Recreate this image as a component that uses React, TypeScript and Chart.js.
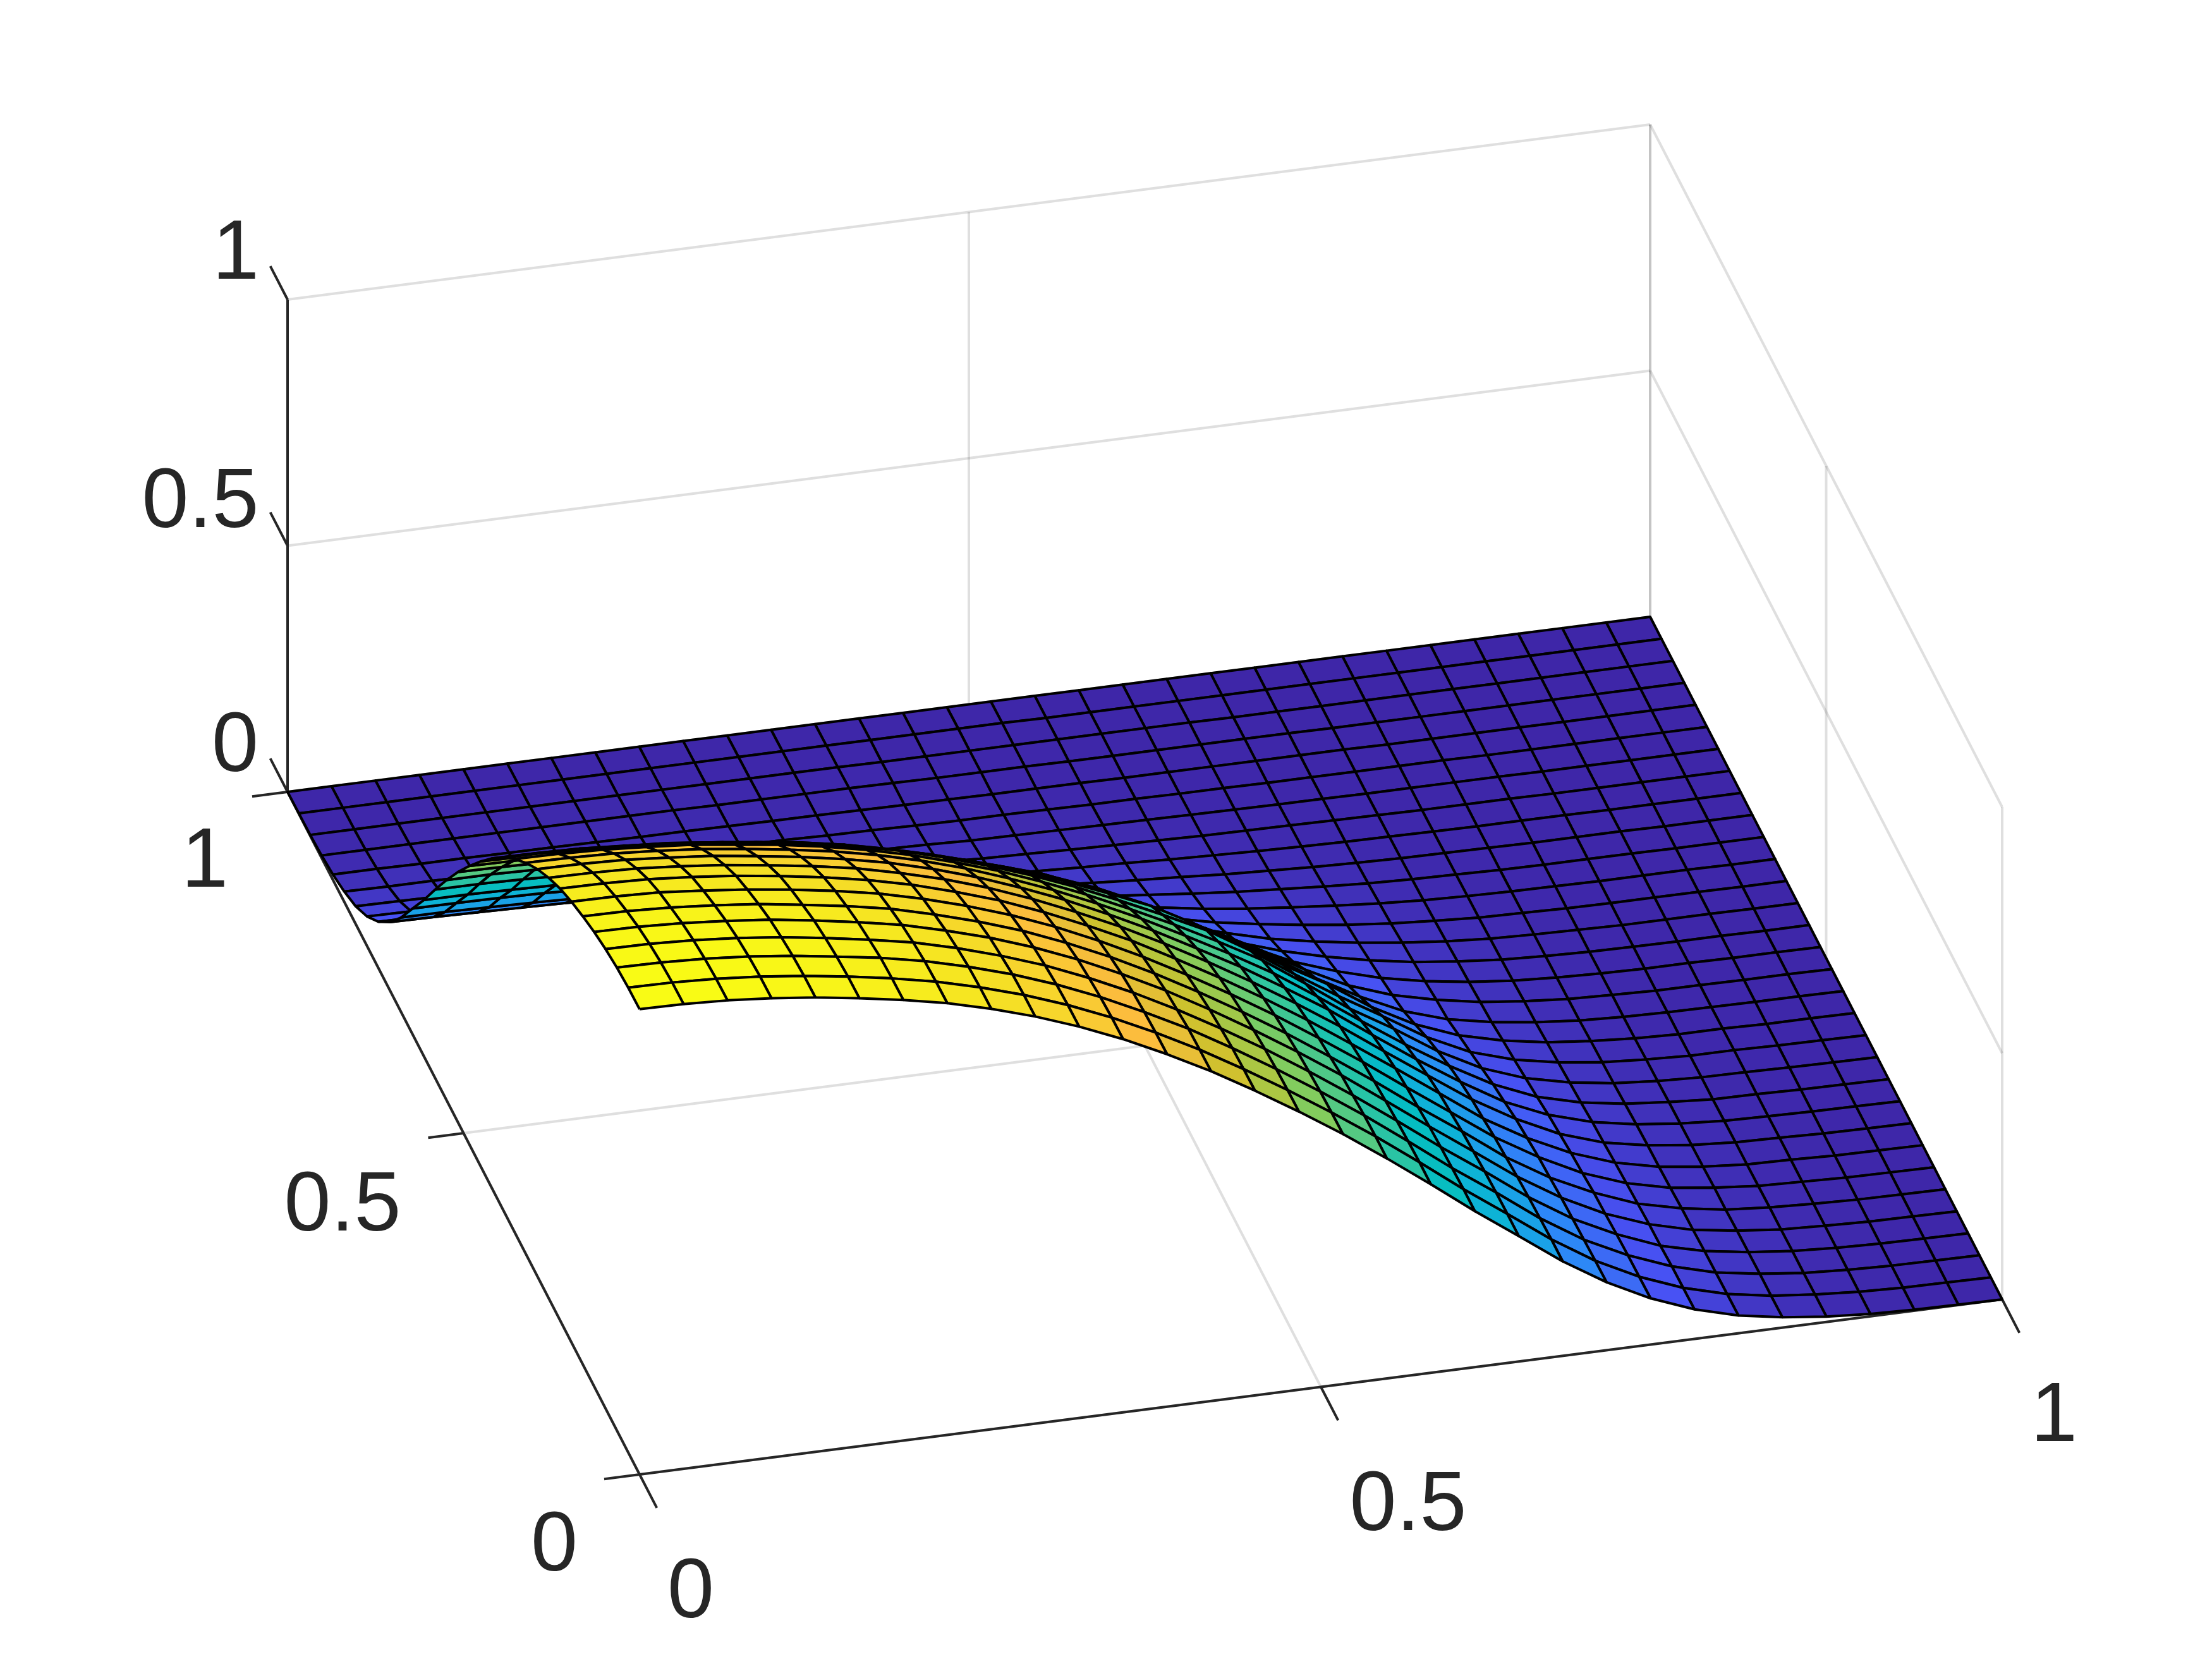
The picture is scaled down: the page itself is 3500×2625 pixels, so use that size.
import React, { useEffect, useRef } from "react";
import { Chart, registerables } from "chart.js";

Chart.register(...registerables);

// Surface heights: one row per y grid line (y = 0 first), one value per x grid line.
const surfaceZ: number[][] = [
  [.945,.944,.940,.933,.923,.910,.895,.877,.854,.827,.795,.758,.716,.670,.619,.565,.508,.447,.383,.317,.255,.192,.138,.094,.060,.036,.021,.011,.005,.002,.001,0],
  [.944,.943,.939,.932,.922,.909,.894,.876,.853,.826,.794,.757,.715,.669,.618,.564,.507,.447,.383,.317,.255,.192,.137,.093,.059,.035,.020,.011,.005,.002,.001,0],
  [.940,.939,.935,.928,.918,.905,.891,.873,.850,.823,.791,.754,.712,.667,.616,.562,.505,.445,.381,.315,.254,.190,.135,.092,.058,.034,.020,.010,.005,.002,.001,0],
  [.933,.932,.928,.921,.911,.898,.883,.866,.843,.816,.785,.748,.707,.661,.611,.558,.501,.441,.378,.313,.252,.188,.133,.090,.055,.033,.019,.010,.005,.002,.001,0],
  [.923,.922,.918,.911,.902,.889,.874,.857,.834,.808,.777,.741,.700,.655,.605,.552,.496,.437,.374,.310,.248,.185,.131,.087,.054,.031,.018,.009,.005,.002,.001,0],
  [.910,.909,.905,.898,.889,.876,.862,.845,.822,.796,.766,.730,.690,.645,.596,.544,.489,.430,.369,.305,.244,.180,.127,.085,.051,.030,.016,.009,.005,.002,.001,0],
  [.895,.894,.891,.883,.874,.862,.848,.831,.809,.783,.753,.718,.678,.634,.586,.535,.481,.423,.363,.300,.238,.176,.124,.080,.048,.027,.016,.008,.005,.002,.001,0],
  [.877,.876,.873,.866,.857,.845,.831,.814,.793,.767,.738,.703,.664,.622,.574,.524,.471,.415,.355,.294,.232,.169,.118,.076,.045,.025,.014,.007,.005,.002,.001,0],
  [.854,.853,.850,.843,.834,.822,.809,.793,.772,.748,.719,.685,.647,.606,.560,.511,.459,.404,.346,.284,.223,.163,.112,.070,.041,.024,.013,.007,.005,.002,.001,0],
  [.827,.826,.823,.816,.808,.796,.783,.767,.748,.724,.696,.663,.627,.586,.542,.494,.445,.391,.335,.272,.211,.154,.102,.064,.038,.022,.012,.006,.004,.002,.001,0],
  [.795,.794,.791,.785,.777,.766,.753,.738,.719,.696,.669,.637,.602,.563,.521,.475,.427,.376,.317,.256,.197,.142,.093,.056,.033,.019,.011,.005,.004,.002,.001,0],
  [.758,.757,.754,.748,.741,.730,.718,.703,.685,.663,.637,.608,.574,.537,.496,.453,.407,.358,.298,.236,.184,.127,.081,.049,.029,.016,.009,.005,.004,.002,.001,0],
  [.716,.715,.712,.707,.700,.690,.678,.664,.647,.627,.602,.574,.543,.508,.469,.428,.385,.332,.273,.217,.165,.111,.069,.042,.025,.014,.008,.004,.004,.002,.001,0],
  [.670,.669,.667,.661,.655,.645,.634,.622,.606,.586,.563,.537,.508,.475,.439,.401,.353,.302,.247,.197,.139,.092,.058,.036,.021,.012,.006,.003,.003,.001,.001,0],
  [.619,.618,.616,.611,.605,.596,.586,.574,.560,.542,.521,.496,.469,.439,.405,.364,.316,.267,.218,.164,.115,.074,.046,.029,.017,.009,.005,.003,.002,.001,.001,0],
  [.565,.564,.562,.558,.552,.544,.535,.524,.511,.494,.475,.453,.428,.401,.364,.324,.278,.235,.188,.137,.093,.062,.041,.025,.015,.008,.005,.002,.002,.001,.001,0],
  [.508,.507,.505,.501,.496,.489,.481,.471,.459,.445,.427,.407,.385,.353,.316,.278,.240,.199,.150,.108,.077,.052,.034,.021,.012,.007,.004,.002,.002,.001,.001,0],
  [.447,.447,.445,.441,.437,.430,.423,.415,.404,.391,.376,.358,.332,.302,.267,.235,.199,.156,.114,.085,.062,.043,.028,.018,.010,.006,.003,.002,.001,.001,0,0],
  [.383,.383,.381,.378,.374,.369,.363,.355,.346,.335,.317,.298,.273,.247,.218,.188,.150,.114,.088,.065,.048,.034,.023,.014,.008,.005,.003,.001,.001,.001,0,0],
  [.317,.317,.315,.313,.310,.305,.300,.294,.284,.272,.256,.236,.217,.197,.164,.137,.108,.085,.065,.050,.037,.026,.017,.011,.006,.004,.002,.001,.001,.001,0,0],
  [.255,.255,.254,.252,.248,.244,.238,.232,.223,.211,.197,.184,.165,.139,.115,.093,.077,.062,.048,.037,.028,.020,.013,.008,.005,.003,.002,.001,.001,.001,0,0],
  [.192,.192,.190,.188,.185,.180,.176,.169,.163,.154,.142,.127,.111,.092,.074,.062,.052,.043,.034,.026,.020,.014,.009,.006,.004,.002,.001,.001,.001,0,0,0],
  [.138,.137,.135,.133,.131,.127,.124,.118,.112,.102,.093,.081,.069,.058,.046,.041,.034,.028,.023,.017,.013,.009,.006,.004,.003,.002,.001,.001,.001,0,0,0],
  [.094,.093,.092,.090,.087,.085,.080,.076,.070,.064,.056,.049,.042,.036,.029,.025,.021,.018,.014,.011,.008,.006,.004,.003,.002,.001,.001,.001,0,0,0,0],
  [.060,.059,.058,.055,.054,.051,.048,.045,.041,.038,.033,.029,.025,.021,.017,.015,.012,.010,.008,.006,.005,.004,.003,.002,.001,.001,.001,0,0,0,0,0],
  [.036,.035,.034,.033,.031,.030,.027,.025,.024,.022,.019,.016,.014,.012,.009,.008,.007,.006,.005,.004,.003,.002,.002,.001,.001,.001,.001,0,0,0,0,0],
  [.021,.020,.020,.019,.018,.016,.016,.014,.013,.012,.011,.009,.008,.006,.005,.005,.004,.003,.003,.002,.002,.001,.001,.001,.001,.001,0,0,0,0,0,0],
  [.011,.011,.010,.010,.009,.009,.008,.007,.007,.006,.005,.005,.004,.003,.003,.002,.002,.002,.001,.001,.001,.001,.001,.001,0,0,0,0,0,0,0,0],
  [.005,.005,.005,.005,.005,.005,.005,.005,.005,.004,.004,.004,.004,.003,.002,.002,.002,.001,.001,.001,.001,.001,.001,0,0,0,0,0,0,0,0,0],
  [.002,.002,.002,.002,.002,.002,.002,.002,.002,.002,.002,.002,.002,.001,.001,.001,.001,.001,.001,.001,.001,0,0,0,0,0,0,0,0,0,0,0],
  [.001,.001,.001,.001,.001,.001,.001,.001,.001,.001,.001,.001,.001,.001,.001,.001,.001,0,0,0,0,0,0,0,0,0,0,0,0,0,0,0],
  [0,0,0,0,0,0,0,0,0,0,0,0,0,0,0,0,0,0,0,0,0,0,0,0,0,0,0,0,0,0,0,0],
];

const xTicks = [0, 0.5, 1];
const yTicks = [0, 0.5, 1];
const zTicks = [0, 0.5, 1];
const tickLabels = ["0", "0.5", "1"];

// Parula colormap anchors
const parula: number[][] = [
  [0.2422, 0.1504, 0.6603],
  [0.281, 0.3228, 0.9579],
  [0.1786, 0.5289, 0.9682],
  [0.07, 0.68, 0.88],
  [0.02, 0.74, 0.76],
  [0.22, 0.78, 0.6],
  [0.52, 0.8, 0.36],
  [0.8, 0.76, 0.18],
  [0.99, 0.74, 0.24],
  [0.96, 0.87, 0.15],
  [0.9769, 0.9839, 0.0805],
];

function parulaColor(t: number): string {
  const c = Math.max(0, Math.min(1, t)) * 10;
  const k = Math.min(9, Math.floor(c));
  const f = c - k;
  const rgb = [0, 1, 2].map((n) => Math.round(255 * (parula[k][n] + (parula[k + 1][n] - parula[k][n]) * f)));
  return `rgb(${rgb[0]},${rgb[1]},${rgb[2]})`;
}

// Orthographic view of the unit box, expressed in the chart's scale units
const project = (x: number, y: number, z: number) => ({
  x: 1012 + 2156 * x - 557 * y,
  y: 2333 - 277 * x - 1080 * y - 779 * z,
});

const GRID = "rgba(38,38,38,0.15)";
const AXIS = "#262626";

function segment(a: number[], b: number[], color: string, width: number) {
  return {
    type: "scatter" as const,
    data: [project(a[0], a[1], a[2]), project(b[0], b[1], b[2])],
    showLine: true,
    fill: false,
    borderColor: color,
    borderWidth: width,
    pointRadius: 0,
    clip: false,
  };
}

function buildDatasets() {
  const out: any[] = [];
  const n = surfaceZ.length - 1;
  const zMax = surfaceZ[0][0];
  // datasets are painted last to first: nearest cell comes first
  for (let j = 0; j < n; j++) {
    for (let i = 0; i < n; i++) {
      const corners = [
        [i, j],
        [i + 1, j],
        [i + 1, j + 1],
        [i, j + 1],
        [i, j],
      ];
      out.push({
        type: "scatter",
        data: corners.map(([a, b]) => project(a / n, b / n, surfaceZ[b][a])),
        showLine: true,
        fill: "shape",
        backgroundColor: parulaColor(surfaceZ[j][i] / zMax),
        borderColor: "#000000",
        borderWidth: 4,
        borderJoinStyle: "round",
        pointRadius: 0,
        clip: false,
      });
    }
  }
  const tx = 0.026;
  const ty = 0.049;
  // axis lines and ticks
  out.push(segment([0, 0, 0], [1, 0, 0], AXIS, 4));
  out.push(segment([0, 0, 0], [0, 1, 0], AXIS, 4));
  out.push(segment([0, 1, 0], [0, 1, 1], AXIS, 4));
  for (const v of xTicks) out.push(segment([v, 0, 0], [v, -ty, 0], AXIS, 4));
  for (const v of yTicks) out.push(segment([0, v, 0], [-tx, v, 0], AXIS, 4));
  for (const v of zTicks) out.push(segment([0, 1, v], [0, 1 + ty, v], AXIS, 4));
  // grid lines
  for (const v of xTicks) {
    out.push(segment([v, 0, 0], [v, 1, 0], GRID, 4));
    if (v > 0) out.push(segment([v, 1, 0], [v, 1, 1], GRID, 4));
  }
  for (const v of yTicks) {
    out.push(segment([0, v, 0], [1, v, 0], GRID, 4));
    out.push(segment([1, v, 0], [1, v, 1], GRID, 4));
  }
  for (const v of zTicks) {
    out.push(segment([0, 1, v], [1, 1, v], GRID, 4));
    out.push(segment([1, 1, v], [1, 0, v], GRID, 4));
  }
  return out;
}

// label centres on the page, one per tick of each axis
const labelPlugin = {
  id: "axisLabels",
  afterDraw(chart: any) {
    const { ctx, scales } = chart;
    const place = [
      { pos: [[877, 2437], [542, 1899], [324, 1355]] }, // y axis
      { pos: [[1093, 2511], [2228, 2373], [3250, 2232]] }, // x axis
      { pos: [[372, 1172], [317, 786], [373, 393]] }, // z axis
    ];
    ctx.save();
    ctx.fillStyle = AXIS;
    ctx.font = '133px "Liberation Sans", Arial, sans-serif';
    ctx.textAlign = "center";
    ctx.textBaseline = "alphabetic";
    for (const { pos } of place) {
      pos.forEach(([px, py], k) => {
        ctx.fillText(tickLabels[k], scales.x.getPixelForValue(px), scales.y.getPixelForValue(py) + 48);
      });
    }
    ctx.restore();
  },
};

export default function App() {
  const ref = useRef<HTMLCanvasElement>(null);
  useEffect(() => {
    document.body.style.margin = "0";
    const chart = new Chart(ref.current as HTMLCanvasElement, {
      type: "scatter",
      data: { datasets: buildDatasets() },
      options: {
        animation: false,
        responsive: false,
        devicePixelRatio: 1,
        events: [],
        layout: { padding: 0 },
        elements: { line: { tension: 0 } },
        plugins: { legend: { display: false }, tooltip: { enabled: false }, title: { display: false } },
        scales: {
          x: { type: "linear", min: 0, max: 3500, display: false },
          y: { type: "linear", min: 0, max: 2625, reverse: true, display: false },
        },
      },
      plugins: [labelPlugin],
    } as any);
    return () => chart.destroy();
  }, []);
  return (
    <div style={{ position: "absolute", left: 0, top: 0, width: 3500, height: 2625, background: "#fff" }}>
      <canvas ref={ref} width={3500} height={2625} style={{ display: "block" }} />
    </div>
  );
}
